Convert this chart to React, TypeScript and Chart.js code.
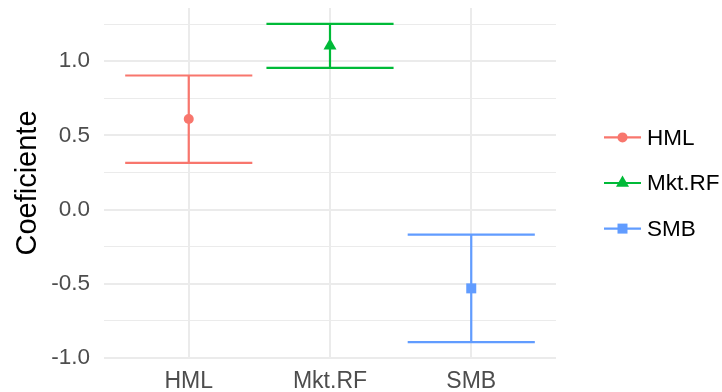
import React, { useEffect, useRef } from 'react';
import { Chart, registerables } from 'chart.js';

Chart.register(...registerables);

// ---- data ----
const categories = ['HML', 'Mkt.RF', 'SMB'];
const estimates = [0.611, 1.104, -0.531];
const lowerBounds = [0.315, 0.955, -0.893];
const upperBounds = [0.904, 1.252, -0.169];
const yTickValues = [-1, -0.75, -0.5, -0.25, 0, 0.25, 0.5, 0.75, 1, 1.25];
const yAxisTitle = 'Coeficiente';

// ---- styles ----
const colors = ['#F8766D', '#00BA38', '#619CFF'];
const pointStyles = ['circle', 'triangle', 'rect'];
const pointRadii = [5, 7.5, 7.07];
const FONT = "'Liberation Sans', Arial, Helvetica, sans-serif";
const GRID = '#EBEBEB';
const BAR_HALF = 0.45;

function drawMarker(ctx: CanvasRenderingContext2D, style: string, r: number, x: number, y: number) {
  ctx.beginPath();
  if (style === 'circle') {
    ctx.arc(x, y, r, 0, Math.PI * 2);
  } else if (style === 'triangle') {
    const a = -Math.PI / 2;
    for (let k = 0; k < 3; k++) {
      const ang = a + (k * 2 * Math.PI) / 3;
      const px = x + Math.cos(ang) * r;
      const py = y + Math.sin(ang) * r;
      if (k === 0) ctx.moveTo(px, py);
      else ctx.lineTo(px, py);
    }
    ctx.closePath();
  } else {
    const s = r / Math.SQRT2;
    ctx.rect(x - s, y - s, 2 * s, 2 * s);
  }
  ctx.fill();
}

const errorBarPlugin = {
  id: 'errorBars',
  beforeDatasetsDraw(chart: any) {
    const { ctx, scales } = chart;
    const x = scales.x;
    const y = scales.y;
    ctx.save();
    ctx.lineWidth = 2.2;
    ctx.lineCap = 'butt';
    categories.forEach((_, i) => {
      const xc = x.getPixelForValue(i + 1);
      const x0 = x.getPixelForValue(i + 1 - BAR_HALF);
      const x1 = x.getPixelForValue(i + 1 + BAR_HALF);
      const yHi = y.getPixelForValue(upperBounds[i]);
      const yLo = y.getPixelForValue(lowerBounds[i]);
      ctx.strokeStyle = colors[i];
      ctx.beginPath();
      ctx.moveTo(x0, yHi);
      ctx.lineTo(x1, yHi);
      ctx.moveTo(x0, yLo);
      ctx.lineTo(x1, yLo);
      ctx.moveTo(xc, yHi);
      ctx.lineTo(xc, yLo);
      ctx.stroke();
    });
    ctx.restore();
  },
};

const legendPlugin = {
  id: 'sideLegend',
  afterDraw(chart: any) {
    const { ctx, chartArea } = chart;
    const cy = (chartArea.top + chartArea.bottom) / 2;
    const spacing = 45.6;
    const lx0 = chartArea.right + 48;
    const lx1 = chartArea.right + 85;
    const tx = chartArea.right + 91;
    ctx.save();
    categories.forEach((name, i) => {
      const yy = cy + (i - 1) * spacing;
      ctx.strokeStyle = colors[i];
      ctx.lineWidth = 2.2;
      ctx.beginPath();
      ctx.moveTo(lx0, yy);
      ctx.lineTo(lx1, yy);
      ctx.stroke();
      ctx.fillStyle = colors[i];
      drawMarker(ctx, pointStyles[i], pointRadii[i], (lx0 + lx1) / 2, yy);
      ctx.fillStyle = '#000000';
      ctx.font = `22.5px ${FONT}`;
      ctx.textAlign = 'left';
      ctx.textBaseline = 'middle';
      ctx.fillText(name, tx, yy + 1);
    });
    ctx.restore();
  },
};

export default function App() {
  const canvasRef = useRef<HTMLCanvasElement | null>(null);

  useEffect(() => {
    if (!canvasRef.current) return;
    const datasets = categories.map((name, i) => ({
      label: name,
      data: [{ x: i + 1, y: estimates[i] }],
      backgroundColor: colors[i],
      borderColor: colors[i],
      borderWidth: 0,
      pointStyle: pointStyles[i],
      pointRadius: pointRadii[i],
      pointHoverRadius: pointRadii[i],
    }));

    const chart = new Chart(canvasRef.current, {
      type: 'scatter',
      data: { datasets } as any,
      plugins: [errorBarPlugin, legendPlugin],
      options: {
        animation: false,
        responsive: true,
        maintainAspectRatio: false,
        layout: { padding: { left: 0, right: 166, top: 8, bottom: 0 } },
        plugins: {
          legend: { display: false },
          tooltip: { enabled: false },
        },
        scales: {
          x: {
            type: 'linear',
            min: 0.4,
            max: 3.6,
            border: { display: false },
            grid: { color: GRID, lineWidth: 2, drawTicks: false },
            ticks: {
              padding: 10,
              color: '#4D4D4D',
              font: { family: FONT, size: 23 },
              callback: (v: any) => categories[Math.round(Number(v)) - 1] ?? '',
            },
            afterBuildTicks: (scale: any) => {
              scale.ticks = categories.map((_, i) => ({ value: i + 1 }));
            },
            afterFit: (scale: any) => {
              scale.height = 34;
              scale.paddingLeft = 0;
              scale.paddingRight = 0;
            },
          },
          y: {
            type: 'linear',
            min: -1.0004,
            max: 1.359,
            border: { display: false },
            grid: {
              color: GRID,
              drawTicks: false,
              lineWidth: (c: any) => {
                const v = c.tick ? c.tick.value : 0;
                return Math.abs(v * 2 - Math.round(v * 2)) < 1e-6 ? 2 : 1.1;
              },
            },
            ticks: {
              padding: 14,
              color: '#4D4D4D',
              font: { family: FONT, size: 22.5 },
              callback: (v: any) => {
                const n = Number(v);
                return Math.abs(n * 2 - Math.round(n * 2)) < 1e-6 ? n.toFixed(1) : '';
              },
            },
            afterBuildTicks: (scale: any) => {
              scale.ticks = yTickValues.map((v) => ({ value: v }));
            },
            afterFit: (scale: any) => {
              scale.width = 104;
              scale.paddingTop = 0;
              scale.paddingBottom = 0;
            },
            title: {
              display: true,
              text: yAxisTitle,
              color: '#000000',
              font: { family: FONT, size: 29 },
              padding: { top: 11, bottom: 0 },
            },
          },
        },
      } as any,
    });
    return () => chart.destroy();
  }, []);

  return (
    <div style={{ position: 'fixed', left: 0, top: 0, width: 722, height: 392, background: '#FFFFFF' }}>
      <canvas ref={canvasRef} />
    </div>
  );
}
